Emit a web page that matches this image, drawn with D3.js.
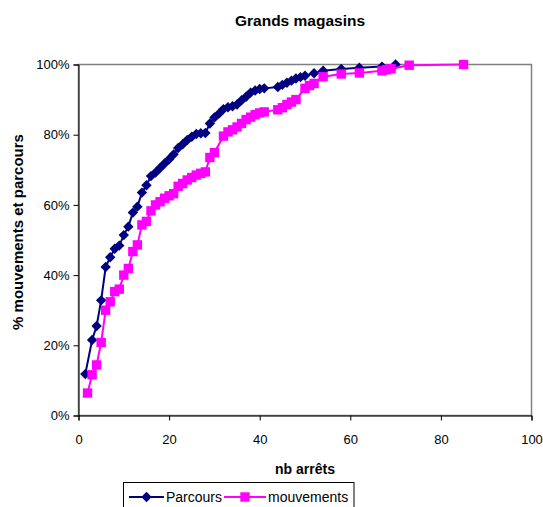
<!DOCTYPE html>
<html>
<head>
<meta charset="utf-8">
<script src="https://cdn.jsdelivr.net/npm/d3@7"></script>
<style>
  html, body { margin: 0; padding: 0; background: #fff; }
  svg { display: block; font-family: "Liberation Sans", Arial, sans-serif; }
</style>
</head>
<body>
<svg id="chart" width="543" height="507"></svg>
<script>
// ---- data ----
const title = "Grands magasins";
const xLabel = "nb arrêts";
const yLabel = "% mouvements et parcours";
const seriesNames = ["Parcours", "mouvements"];
const xTicks = [0, 20, 40, 60, 80, 100];
const yTicks = [0, 20, 40, 60, 80, 100];

const parcoursX = [1.5, 3, 4, 5, 6, 7, 8, 9, 10, 11, 12, 13, 14, 15, 16, 17, 18, 19, 20, 21, 22, 23, 24, 25, 26, 27, 28, 29, 30, 31, 32, 33, 34, 35, 36, 37, 38, 39, 40, 41, 44, 45, 46, 47, 48, 49, 50, 52, 54, 58, 62, 67, 70];
const parcoursY = [11.8, 21.5, 25.5, 32.8, 42.3, 45.1, 47.5, 48.4, 51.4, 53.8, 57.8, 59.5, 63.5, 65.6, 68.2, 69.2, 70.5, 71.8, 73.0, 74.4, 76.2, 77.3, 78.5, 79.4, 80.2, 80.4, 80.5, 83.2, 84.9, 86.0, 87.3, 87.8, 88.1, 88.6, 89.8, 90.8, 92.0, 92.6, 93.0, 93.2, 93.6, 94.2, 94.8, 95.4, 96.0, 96.4, 96.8, 97.5, 98.2, 98.7, 99.1, 99.4, 100];

const mouvementsX = [2, 3, 4, 5, 6, 7, 8, 9, 10, 11, 12, 13, 14, 15, 16, 17, 18, 19, 20, 21, 22, 23, 24, 25, 26, 27, 28, 29, 30, 32, 33, 34, 35, 36, 37, 38, 39, 40, 41, 44, 45, 46, 47, 48, 50, 51, 52, 54, 58, 62, 67, 68, 69, 73, 85];
const mouvementsY = [6.4, 11.6, 14.4, 20.8, 30.0, 32.4, 35.3, 36.0, 40.0, 41.9, 46.7, 48.6, 54.3, 55.3, 58.3, 60.0, 60.9, 61.9, 62.6, 63.2, 65.3, 66.1, 67.1, 67.8, 68.5, 69.0, 69.4, 73.5, 74.9, 79.6, 80.8, 81.4, 82.2, 83.2, 84.3, 85.0, 85.7, 86.2, 86.5, 87.1, 87.7, 88.6, 89.3, 90.0, 93.2, 94.0, 94.6, 96.5, 97.3, 97.6, 98.2, 98.5, 98.8, 99.8, 100];

const colors = ["#000080", "#FF00FF"];

// ---- layout ----
const svg = d3.select("#chart");
const plot = { left: 78.5, right: 531.5, top: 64.5, bottom: 415.5 };

const x = d3.scaleLinear().domain([0, 100]).range([plot.left, plot.right]);
const y = d3.scaleLinear().domain([0, 100]).range([plot.bottom, plot.top]);

// plot area border (grey)
svg.append("rect")
  .attr("x", plot.left).attr("y", plot.top)
  .attr("width", plot.right - plot.left).attr("height", plot.bottom - plot.top)
  .attr("fill", "none").attr("stroke", "#808080").attr("stroke-width", 1.5);

// axes
const xAxis = d3.axisBottom(x).tickValues(xTicks).tickSize(5).tickPadding(14).tickFormat(d3.format("d"));
const yAxis = d3.axisLeft(y).tickValues(yTicks).tickSize(5).tickPadding(4).tickFormat(d => d + "%");

const gx = svg.append("g").attr("transform", `translate(0,${plot.bottom})`).call(xAxis);
const gy = svg.append("g").attr("transform", `translate(${plot.left},0)`).call(yAxis);
[gx, gy].forEach(g => {
  g.select(".domain").attr("stroke", "#000").attr("stroke-width", 1);
  g.selectAll(".tick line").attr("stroke", "#000");
  g.selectAll(".tick text").attr("fill", "#000").style("font-size", "13px")
    .style("font-family", "'Liberation Sans', Arial, sans-serif");
});

// titles
svg.append("text").attr("x", 300).attr("y", 26).attr("text-anchor", "middle")
  .style("font-size", "15.5px").style("font-weight", "bold").text(title);
svg.append("text").attr("x", 305).attr("y", 474).attr("text-anchor", "middle")
  .style("font-size", "14px").style("font-weight", "bold").text(xLabel);
svg.append("text").attr("transform", `translate(23,232) rotate(-90)`).attr("text-anchor", "middle")
  .style("font-size", "15px").style("font-weight", "bold").text(yLabel);

// series
const line = d3.line().x(d => x(d[0])).y(d => y(d[1]));
const diamond = r => `M0,${-r}L${r},0L0,${r}L${-r},0Z`;
const square = s => `M${-s},${-s}H${s}V${s}H${-s}Z`;

const series = [
  { name: seriesNames[0], pts: d3.zip(parcoursX, parcoursY), color: colors[0], shape: diamond(5.2) },
  { name: seriesNames[1], pts: d3.zip(mouvementsX, mouvementsY), color: colors[1], shape: square(4.7) }
];

series.forEach(s => {
  const g = svg.append("g");
  g.append("path").datum(s.pts).attr("d", line)
    .attr("fill", "none").attr("stroke", s.color).attr("stroke-width", 2);
  g.selectAll("path.m").data(s.pts).join("path").attr("class", "m")
    .attr("transform", d => `translate(${x(d[0])},${y(d[1])})`)
    .attr("d", s.shape).attr("fill", s.color);
});

// legend
const lg = svg.append("g");
lg.append("rect").attr("x", 123.5).attr("y", 482.5).attr("width", 230.5).attr("height", 30)
  .attr("fill", "#fff").attr("stroke", "#000").attr("stroke-width", 1);
const legendItems = [
  { x1: 129, x2: 164, tx: 166, s: series[0] },
  { x1: 224, x2: 266, tx: 268, s: series[1] }
];
legendItems.forEach(it => {
  const ly = 497;
  lg.append("line").attr("x1", it.x1).attr("x2", it.x2).attr("y1", ly).attr("y2", ly)
    .attr("stroke", it.s.color).attr("stroke-width", 2);
  lg.append("path").attr("transform", `translate(${(it.x1 + it.x2) / 2},${ly})`)
    .attr("d", it.s.shape).attr("fill", it.s.color);
  lg.append("text").attr("x", it.tx).attr("y", ly + 5).style("font-size", "14px").text(it.s.name);
});
</script>
</body>
</html>
